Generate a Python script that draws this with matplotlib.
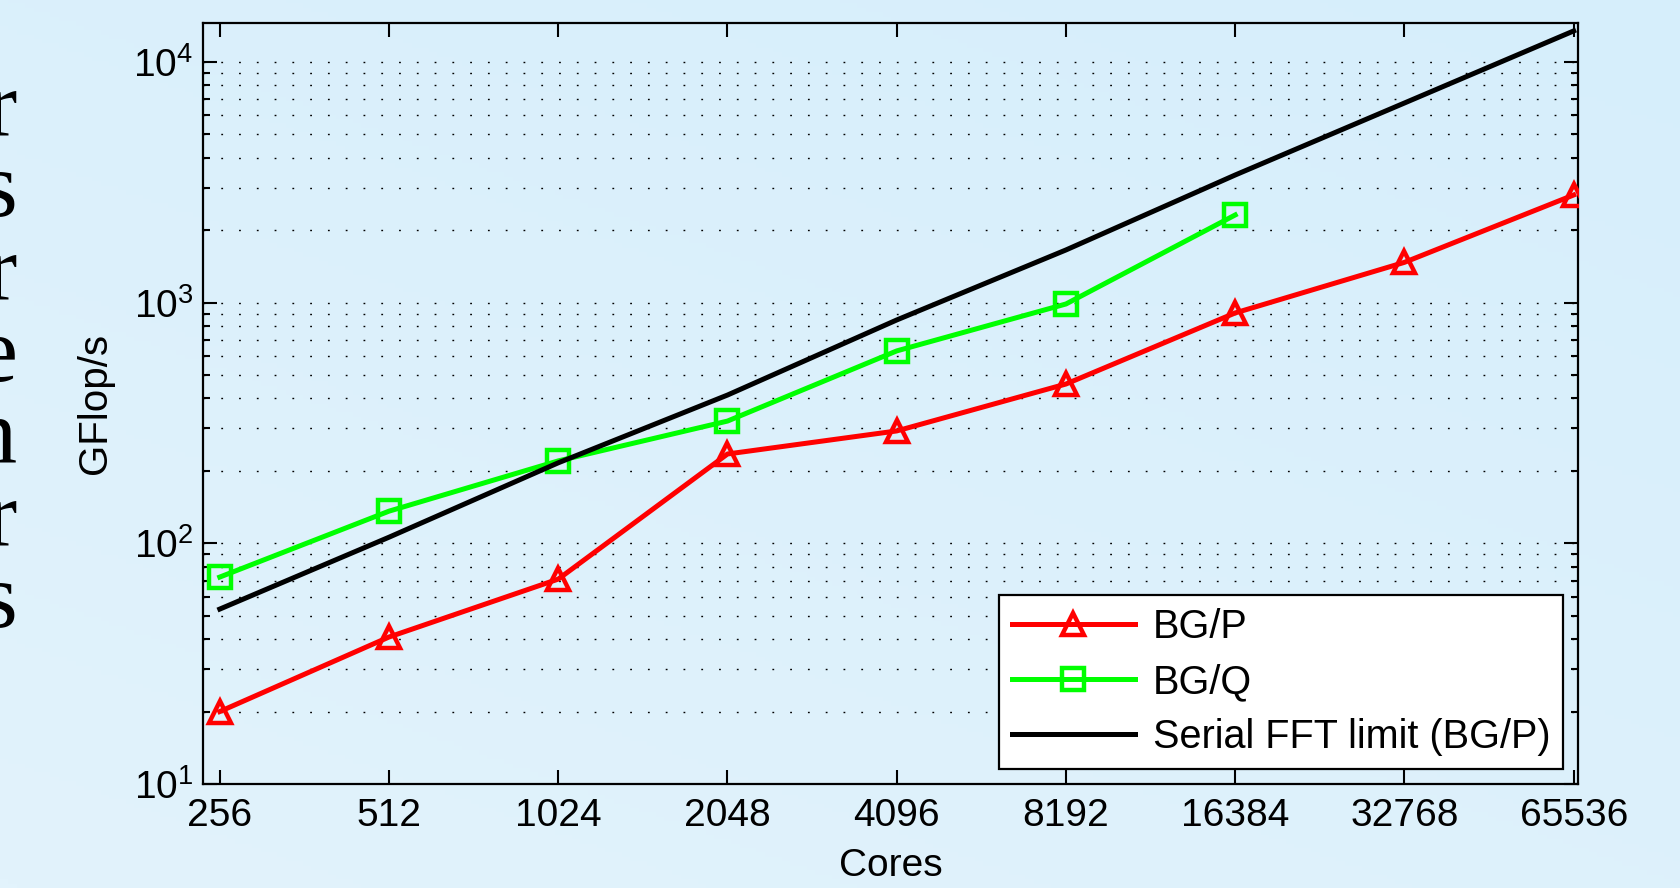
import numpy as np
import matplotlib
matplotlib.use("Agg")
import matplotlib.pyplot as plt
from matplotlib.colors import LinearSegmentedColormap
from matplotlib.ticker import FixedLocator, NullLocator, LogLocator

plt.rcParams['font.family'] = ['Liberation Sans', 'DejaVu Sans']
plt.rcParams['mathtext.fontset'] = 'custom'
plt.rcParams['mathtext.rm'] = 'Liberation Sans'
plt.rcParams['mathtext.it'] = 'Liberation Sans'

# Cores used in the scaling runs
cores = [256, 512, 1024, 2048, 4096, 8192, 16384, 32768, 65536]
cores_bgq = [256, 512, 1024, 2048, 4096, 8192, 16384]

# Measured performance (GFlop/s)
bgp = [20, 40.8, 71, 235, 293, 459, 906, 1470, 2800]
bgq = [72.4, 136, 220, 322, 630, 987, 2313]
serial_limit = [53.3, 106, 216, 413, 847, 1655, 3390, 6750, 13450]

tick_labels = ['256', '512', '1024', '2048', '4096', '8192', '16384', '32768', '65536']

fig = plt.figure(figsize=(16.81, 8.88), dpi=100)

# light blue slide background
bg = fig.add_axes([0, 0, 1, 1], zorder=-10)
cmap = LinearSegmentedColormap.from_list('slide', ['#e2f3fc', '#d6eefb'])
yy, xx = np.mgrid[0:1:200j, 0:1:200j]
bg.imshow(0.6 * yy + 0.4 * xx, cmap=cmap, aspect='auto', origin='lower',
          extent=[0, 1, 0, 1])
bg.set_axis_off()

# line endings of the slide text, cut off at the left edge
fig.text(17 / 1681, 1 - 358 / 888, 'r\ns\nr\ne\nn\nr\ns',
         family='Liberation Serif', fontsize=68, ha='right', va='center',
         multialignment='right', linespacing=0.955, color='black')

ax = fig.add_axes([203 / 1681, 1 - 784 / 888, 1375 / 1681, 761 / 888])
ax.patch.set_alpha(0)

ax.plot(cores, bgp, color='#ff0000', lw=3.6, marker='^', ms=16,
        mfc='none', mec='#ff0000', mew=3.2, label='BG/P', zorder=3)
ax.plot(cores_bgq, bgq, color='#00ff00', lw=3.6, marker='s', ms=16,
        mfc='none', mec='#00ff00', mew=3.2, label='BG/Q', zorder=3)
ax.plot(cores, serial_limit, color='black', lw=3.6,
        label='Serial FFT limit (BG/P)', zorder=3)

ax.set_xscale('log', base=2)
ax.set_yscale('log')
ax.set_xlim(239, 66700)
ax.set_ylim(10, 14510)

ax.xaxis.set_major_locator(FixedLocator(cores))
ax.set_xticklabels(tick_labels)
ax.xaxis.set_minor_locator(NullLocator())
ax.yaxis.set_major_locator(FixedLocator([10, 100, 1000, 10000]))
ax.yaxis.set_minor_locator(LogLocator(base=10, subs=np.arange(2, 10)))

ax.tick_params(which='both', direction='in', top=True, right=True,
               labelsize=28, width=1.5, colors='black')
ax.tick_params(which='major', length=10)
ax.tick_params(which='minor', length=5)
ax.tick_params(axis='x', pad=10)
ax.tick_params(axis='y', pad=7)

for sp in ax.spines.values():
    sp.set_linewidth(1.6)

# dotted horizontal grid at every decade subdivision
ax.grid(True, axis='y', which='both', color='black', lw=1.0,
        linestyle=(0, (1.3, 11.5)))
ax.set_axisbelow(True)

ax.set_xlabel('Cores', fontsize=28, labelpad=10)
ax.set_ylabel('GFlop/s', fontsize=29, labelpad=14)

leg = ax.legend(loc='lower right', bbox_to_anchor=(0.989, 0.0197),
                borderaxespad=0, fontsize=28.5, frameon=True, fancybox=False,
                framealpha=1, edgecolor='black', handlelength=3.1,
                handletextpad=0.45, labelspacing=0.44, borderpad=0.32)
leg.get_frame().set_linewidth(1.6)

fig.savefig('out.png', dpi=100)
